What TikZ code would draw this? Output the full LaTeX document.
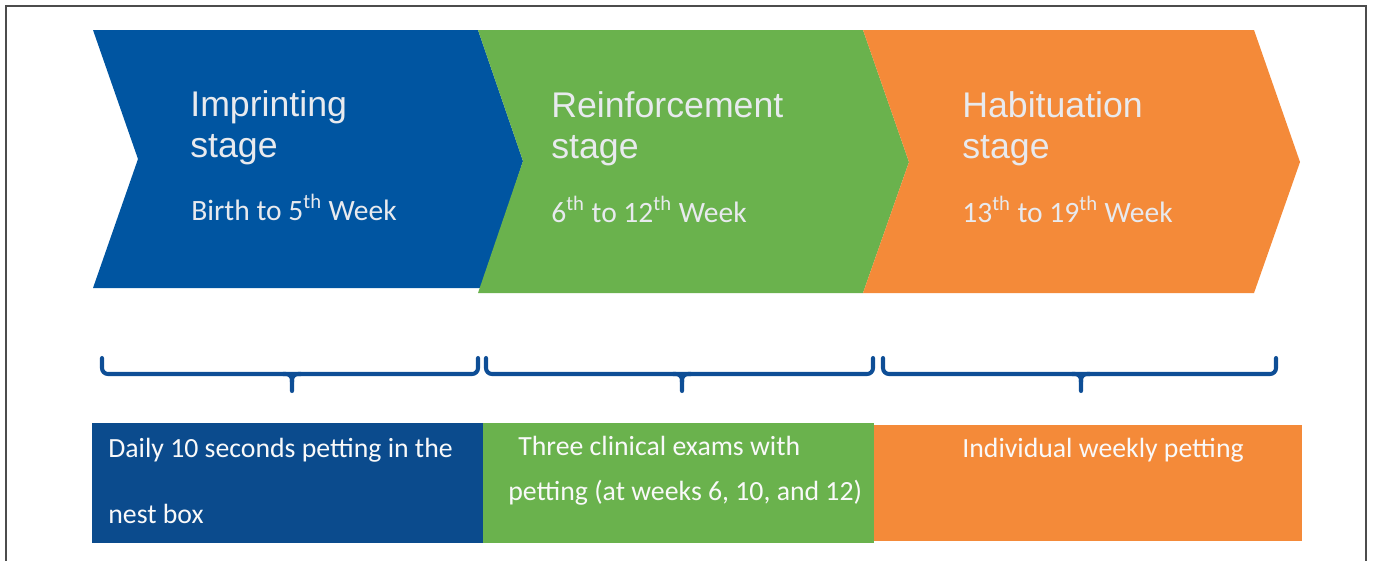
\documentclass[tikz,border=0pt]{standalone}
\usepackage{fontspec}
\setmainfont{Carlito}
\newfontfamily\headfont{Liberation Sans}
\usetikzlibrary{calc}
\definecolor{stageblue}{RGB}{0,85,161}
\definecolor{boxblue}{RGB}{11,75,141}
\definecolor{stagegreen}{RGB}{106,178,77}
\definecolor{stageorange}{RGB}{244,138,57}
\definecolor{bracecol}{RGB}{14,78,150}
\definecolor{lighttext}{RGB}{232,234,238}

\begin{document}
\begin{tikzpicture}[x=0.2mm,y=-0.2mm,
    title/.style={anchor=base west,inner sep=0pt,text=lighttext,font=\headfont\fontsize{20.3}{24}\selectfont},
    period/.style={anchor=base west,inner sep=0pt,text=lighttext,font=\fontsize{16.8}{20}\selectfont},
    boxtext/.style={anchor=base west,inner sep=0pt,text=white!95!gray,font=\fontsize{15.8}{19}\selectfont},
    brace/.style={draw=bracecol,line width=2.3pt,line cap=round,rounded corners=1.2mm}]
    \useasboundingbox (0,0) rectangle (1373,560);
    \draw[line width=1.1pt,draw=black!70] (6,570) -- (6,6) -- (1366,6) -- (1366,570);

    \coordinate (A1) at (93,30);
    \coordinate (A2) at (478,30);
    \coordinate (A3) at (523,161);
    \coordinate (A4) at (482,288);
    \coordinate (A5) at (93,288);
    \coordinate (A6) at (138,159);
    \fill[stageblue] (A1) -- (A2) -- (A3) -- (A4) -- (A5) -- (A6) -- cycle;

    \coordinate (B1) at (478,30);
    \coordinate (B2) at (863,30);
    \coordinate (B3) at (909,162);
    \coordinate (B4) at (863,293);
    \coordinate (B5) at (478,293);
    \fill[stagegreen] (B1) -- (B2) -- (B3) -- (B4) -- (B5) -- (A3) -- cycle;

    \coordinate (C1) at (863,30);
    \coordinate (C2) at (1254,30);
    \coordinate (C3) at (1300,162);
    \coordinate (C4) at (1254,293);
    \coordinate (C5) at (863,293);
    \fill[stageorange] (C1) -- (C2) -- (C3) -- (C4) -- (C5) -- (B3) -- cycle;

    \node[title] (imp1) at (190,116) {Imprinting};
    \node[title] (imp2) at (190,157) {stage};
    \node[period] (imp3) at (191,220) {Birth to 5\textsuperscript{th} Week};

    \node[title] (rei1) at (551,117) {Reinforcement};
    \node[title] (rei2) at (551,158) {stage};
    \node[period] (rei3) at (551,222) {6\textsuperscript{th} to 12\textsuperscript{th} Week};

    \node[title] (hab1) at (962,117) {Habituation};
    \node[title] (hab2) at (962,158) {stage};
    \node[period] (hab3) at (962,222) {13\textsuperscript{th} to 19\textsuperscript{th} Week};

    \foreach \l/\m/\r in {102/292/478, 486/682/873, 883/1081/1276}{
        \draw[brace] (\l,358) -- (\l,374) -- (\r,374) -- (\r,358);
        \draw[brace] (\m-9,374) -- (\m,374) -- (\m,391);
        \draw[brace] (\m+9,374) -- (\m,374) -- (\m,382);
    }

    \fill[boxblue] (92,423) rectangle (483,543);
    \fill[stagegreen] (483,423) rectangle (874,543);
    \fill[stageorange] (874,425) rectangle (1302,541);

    \node[boxtext] (daily1) at (108,457) {Daily 10 seconds petting in the};
    \node[boxtext] (daily2) at (108,523) {nest box};
    \node[boxtext] (exam1) at (518,455) {Three clinical exams with};
    \node[boxtext] (exam2) at (508,500) {petting (at weeks 6, 10, and 12)};
    \node[boxtext] (weekly) at (962,457) {Individual weekly petting};
\end{tikzpicture}
\end{document}
